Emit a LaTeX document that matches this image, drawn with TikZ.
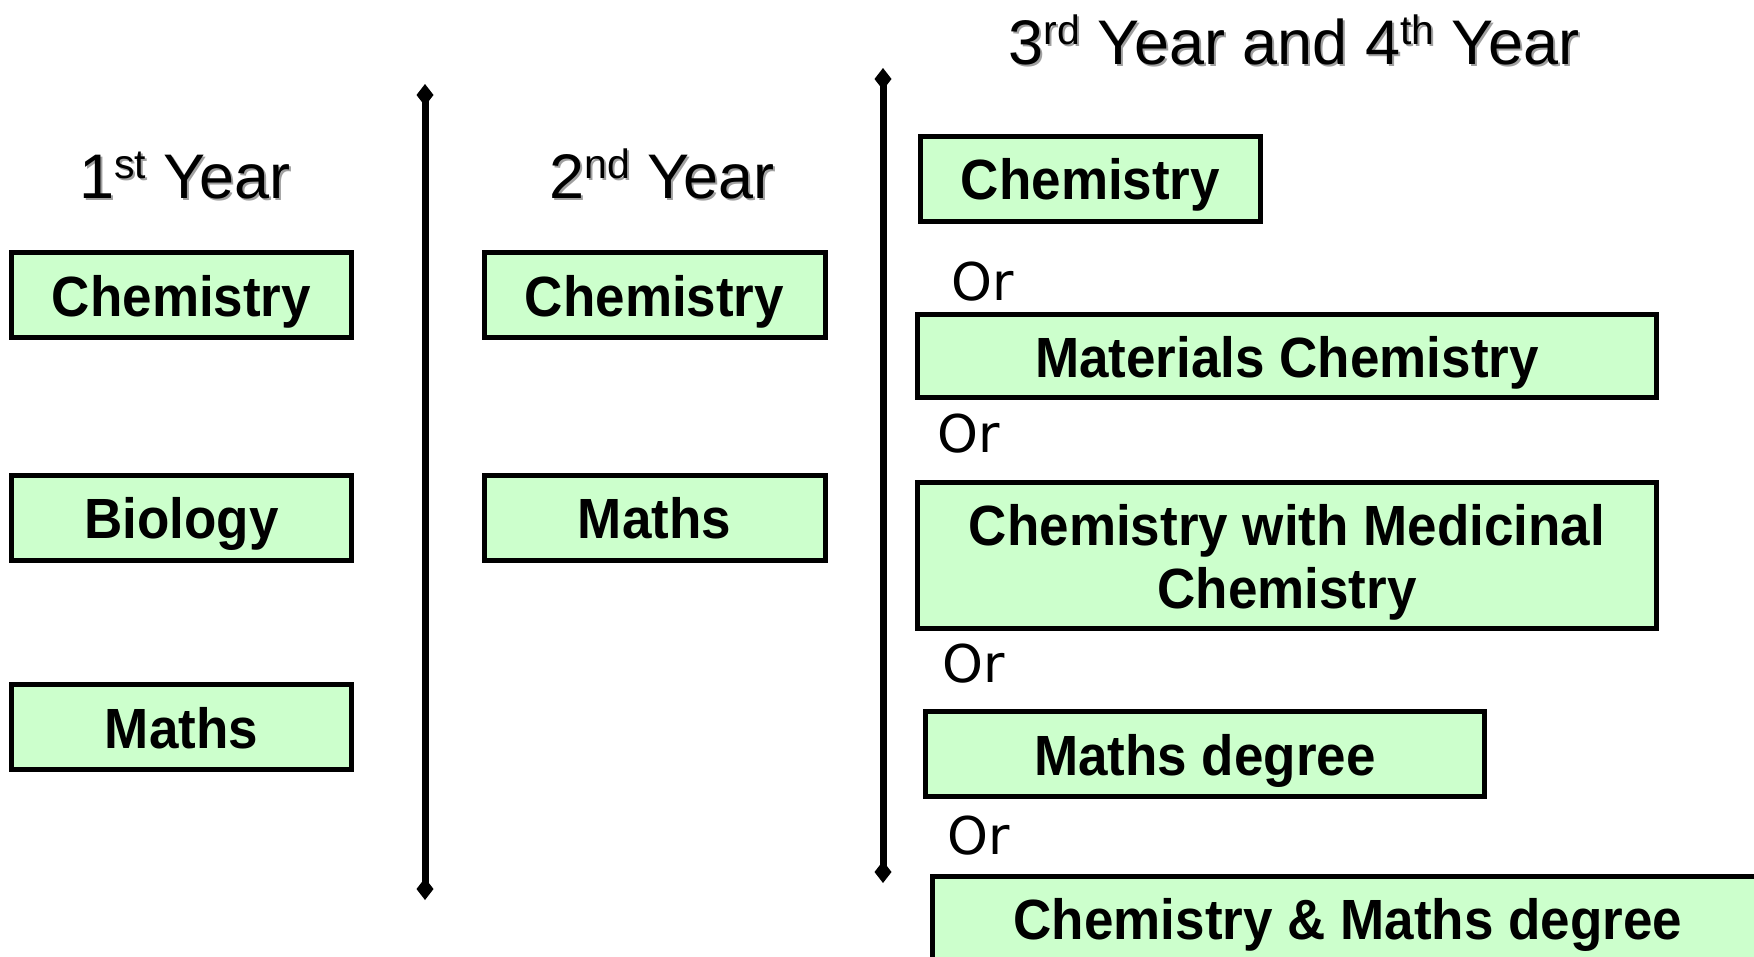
\documentclass[tikz,border=0pt]{standalone}
\usepackage{fontspec}
\setmainfont{Liberation Sans}
\newfontfamily\orfont{DejaVu Sans}
\usetikzlibrary{arrows.meta}
\definecolor{boxgreen}{HTML}{CCFFCC}
\definecolor{shadowgray}{HTML}{A0A0A0}
\newcommand{\supx}[1]{\raisebox{20pt}{\fontsize{41}{41}\selectfont #1}}
\newcommand{\tallx}[1]{\scalebox{1}[1.07]{#1}}
\newcommand{\lowline}[1]{\raisebox{-7pt}[\height][\depth]{\tallx{#1}}}
\tikzset{
  boxbase/.style={draw=black, line width=5pt, fill=boxgreen, minimum height=85pt,
    inner sep=0pt, font=\fontsize{53}{63}\selectfont\bfseries, align=center},
  yearbox/.style={boxbase, text height=47pt, text depth=5pt},
  heading/.style={anchor=base, inner sep=0pt, font=\fontsize{63}{63}\selectfont},
  headshadow/.style={heading, text=shadowgray},
  orlabel/.style={anchor=west, inner sep=0pt, font=\orfont\fontsize{52}{52}\selectfont},
  divider/.style={line width=7pt, {Diamond[length=22pt,width=17pt]}-{Diamond[length=22pt,width=17pt]}},
}
\begin{document}
\begin{tikzpicture}[x=1pt, y=-1pt]
\useasboundingbox (0,0) rectangle (1754,956);
\fill[white] (0,0) rectangle (1754,956);

% headings (shadow + text)
\node[headshadow] (h1s) at (187,200) {1\supx{st} Year};
\node[heading] (h1) at (185,198) {1\supx{st} Year};
\node[headshadow] (h2s) at (664,200) {2\supx{nd} Year};
\node[heading] (h2) at (662,198) {2\supx{nd} Year};
\node[headshadow] (h3s) at (1296,66) {3\supx{rd} Year and 4\supx{th} Year};
\node[heading] (h3) at (1294,64) {3\supx{rd} Year and 4\supx{th} Year};

% dividers
\coordinate (d1t) at (425,84);
\coordinate (d1b) at (425,900);
\coordinate (d2t) at (883,68);
\coordinate (d2b) at (883,883);
\draw[divider] (d1t) -- (d1b);
\draw[divider] (d2t) -- (d2b);

% first year
\node[yearbox, minimum width=340pt] (c1) at (181.5,295) {\tallx{Chemistry}};
\node[yearbox, minimum width=340pt] (b1) at (181.5,517.5) {\tallx{Biology}};
\node[yearbox, minimum width=340pt] (m1) at (181.5,727) {\tallx{Maths}};

% second year
\node[yearbox, minimum width=341pt] (c2) at (654.5,295) {\tallx{Chemistry}};
\node[yearbox, minimum width=341pt] (m2) at (654.5,517.5) {\tallx{Maths}};

% third and fourth year
\node[yearbox, minimum width=340pt] (c3) at (1090.5,178.5) {\tallx{Chemistry}};
\node[orlabel] (or1) at (951,282) {Or};
\node[yearbox, minimum width=739pt, minimum height=83pt] (mc) at (1287,356) {\tallx{Materials Chemistry}};
\node[orlabel] (or2) at (937,434) {Or};
\node[boxbase, minimum width=739pt, minimum height=146pt] (cwm) at (1287,555.5) {\lowline{Chemistry with Medicinal}\\\lowline{Chemistry}};
\node[orlabel] (or3) at (942,664) {Or};
\node[yearbox, minimum width=559pt] (md) at (1205,754) {\tallx{Maths degree}};
\node[orlabel] (or4) at (947,836) {Or};
\node[yearbox, minimum width=832pt] (cmd) at (1348,918.5) {\tallx{Chemistry \& Maths degree}};
\end{tikzpicture}
\end{document}
